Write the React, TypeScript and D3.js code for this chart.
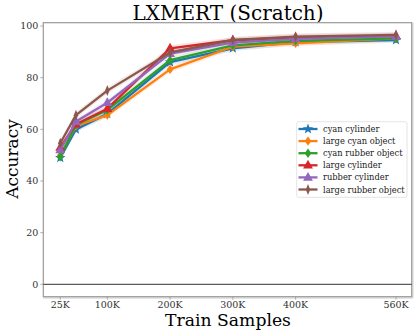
import React from "react";
import * as d3 from "d3";

const xValues = [25, 50, 100, 200, 300, 400, 560];
const xTicks = [25, 100, 200, 300, 400, 560];
const xTickLabels = ["25K", "100K", "200K", "300K", "400K", "560K"];
const yTicks = [0, 20, 40, 60, 80, 100];

const seriesNames = [
  "cyan cylinder",
  "large cyan object",
  "cyan rubber object",
  "large cylinder",
  "rubber cylinder",
  "large rubber object",
];
const seriesColors = ["#1f77b4", "#ff7f0e", "#2ca02c", "#d62728", "#9467bd", "#8c564b"];
const seriesMarkers = ["star", "diamond", "diamond", "triangle", "triangle", "thin"];

const cyanCylinder = [49, 60, 66, 86, 91.4, 93.8, 94.6];
const largeCyanObject = [50, 61.3, 65.5, 83.2, 92, 93.3, 95.2];
const cyanRubberObject = [49.4, 61.7, 67.5, 86.8, 92.5, 94.3, 95.2];
const largeCylinder = [53, 62, 68, 91.4, 94.5, 95.6, 96.2];
const rubberCylinder = [52, 63, 70.3, 89.3, 93.6, 95, 96];
const largeRubberObject = [54.6, 65.5, 75, 89.8, 94.6, 95.9, 96.6];
const seriesValues = [cyanCylinder, largeCyanObject, cyanRubberObject, largeCylinder, rubberCylinder, largeRubberObject];

const W = 415, H = 331;
const L = 43.3, R = 411.7, T = 22.7, B = 296.7;
const FONT = "DejaVu Serif";

function markerPath(kind: string, s: number): string {
  if (kind === "star") {
    const pts: string[] = [];
    for (let i = 0; i < 10; i++) {
      const r = i % 2 === 0 ? s : s * 0.42;
      const a = -Math.PI / 2 + (i * Math.PI) / 5;
      pts.push(`${(r * Math.cos(a)).toFixed(2)},${(r * Math.sin(a)).toFixed(2)}`);
    }
    return "M" + pts.join("L") + "Z";
  }
  if (kind === "triangle") {
    return `M0,${-s}L${s * 0.9},${s * 0.6}L${-s * 0.9},${s * 0.6}Z`;
  }
  if (kind === "thin") {
    return `M0,${-s}L${s * 0.4},0L0,${s}L${-s * 0.4},0Z`;
  }
  return `M0,${-s * 0.85}L${s * 0.6},0L0,${s * 0.85}L${-s * 0.6},0Z`;
}

export default function App() {
  const x = d3.scaleLinear().domain([-2, 585]).range([L, R]);
  const y = d3.scaleLinear().domain([-4.8, 101.3]).range([B, T]);
  const line = d3.line<number>().x((_, i) => x(xValues[i])).y((d) => y(d));
  const area = d3
    .area<number>()
    .x((_, i) => x(xValues[i]))
    .y0((d) => y(d - 1.2))
    .y1((d) => y(d + 1.2));

  return (
    <svg width={W} height={H} style={{ position: "absolute", left: 0, top: 0, background: "#fff" }}>
      <rect x={0} y={0} width={W} height={H} fill="#fff" />
      <text x={228} y={19.5} textAnchor="middle" fontFamily={FONT} fontSize={20} fill="#000">
        LXMERT (Scratch)
      </text>
      {/* frame */}
      <rect x={L} y={T} width={R - L} height={B - T} fill="none" stroke="#999" strokeWidth={1.2} />
      <line x1={R + 1} x2={R + 1} y1={T} y2={B + 1} stroke="#ccc" strokeWidth={1.5} />
      <line x1={L} x2={R + 1} y1={B + 1} y2={B + 1} stroke="#ccc" strokeWidth={1.5} />
      {/* zero line */}
      <line x1={L} x2={R} y1={y(0)} y2={y(0)} stroke="#333" strokeWidth={1} />
      {/* y ticks */}
      {yTicks.map((t) => (
        <g key={t}>
          <line x1={L - 3} x2={L} y1={y(t)} y2={y(t)} stroke="#999" strokeWidth={0.8} />
          <text x={L - 5} y={y(t) + 3.3} textAnchor="end" fontFamily={FONT} fontSize={9.5} fill="#333">
            {t}
          </text>
        </g>
      ))}
      {/* x ticks */}
      {xTicks.map((t, i) => (
        <g key={t}>
          <line x1={x(t)} x2={x(t)} y1={B} y2={B + 3} stroke="#999" strokeWidth={0.8} />
          <text x={x(t)} y={B + 11.5} textAnchor="middle" fontFamily={FONT} fontSize={9.5} fill="#333">
            {xTickLabels[i]}
          </text>
        </g>
      ))}
      <text x={228} y={326} textAnchor="middle" fontFamily={FONT} fontSize={17.2} fill="#000">
        Train Samples
      </text>
      <text
        transform={`translate(18,${159}) rotate(-90)`}
        textAnchor="middle"
        fontFamily={FONT}
        fontSize={17}
        fill="#000"
      >
        Accuracy
      </text>
      {/* bands */}
      {seriesValues.map((vals, si) => (
        <path key={"a" + si} d={area(vals) || ""} fill={seriesColors[si]} opacity={0.12} />
      ))}
      {/* lines */}
      {seriesValues.map((vals, si) => (
        <g key={"l" + si}>
          <path d={line(vals) || ""} fill="none" stroke={seriesColors[si]} strokeWidth={2.3} strokeLinejoin="round" />
          {vals.map((v, i) => (
            <path
              key={i}
              d={markerPath(seriesMarkers[si], 5.5)}
              transform={`translate(${x(xValues[i])},${y(v)})`}
              fill={seriesColors[si]}
            />
          ))}
        </g>
      ))}
      {/* legend */}
      <rect x={296.7} y={121.7} width={110.3} height={75.6} fill="#fff" fillOpacity={0.85} stroke="#ddd" strokeWidth={0.8} rx={2} />
      {seriesNames.map((n, i) => {
        const ly = 129 + i * 12.1;
        return (
          <g key={n}>
            <line x1={298.5} x2={317.5} y1={ly} y2={ly} stroke={seriesColors[i]} strokeWidth={2.3} />
            <path d={markerPath(seriesMarkers[i], 5.5)} transform={`translate(308,${ly})`} fill={seriesColors[i]} />
            <text x={323} y={ly + 3} fontFamily={FONT} fontSize={8.3} fill="#222">
              {n}
            </text>
          </g>
        );
      })}
    </svg>
  );
}
